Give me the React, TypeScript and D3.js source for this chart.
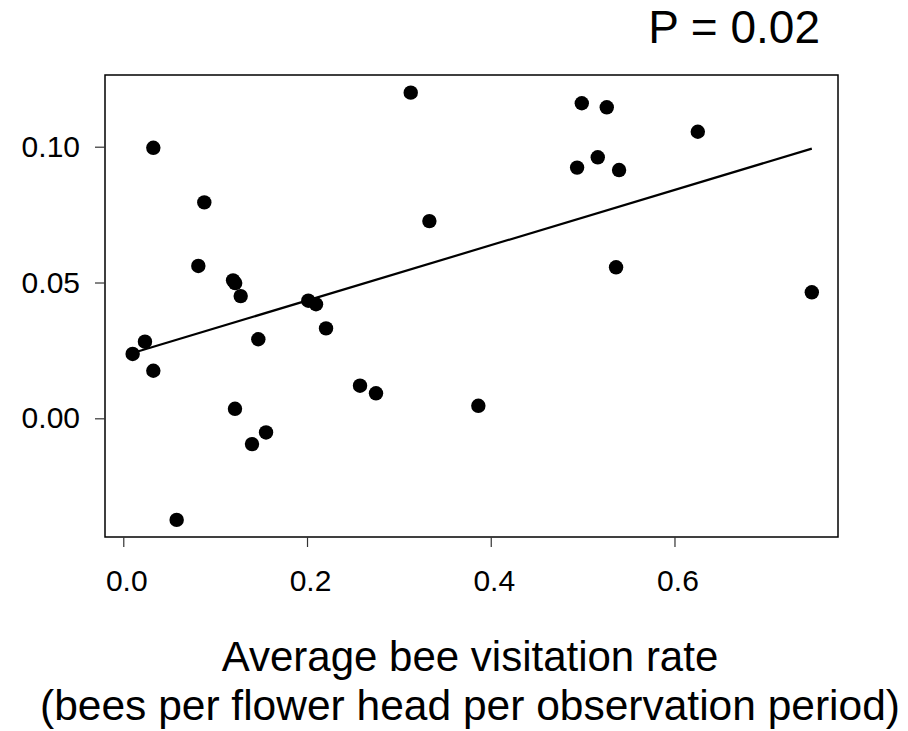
import React, { useEffect, useRef } from "react";
import * as d3 from "d3";

// visitation rate (x) vs. response (y)
const visitRate = [
  0.0327, 0.3129, 0.0882, 0.3332, 0.0817, 0.1195, 0.1218, 0.1278, 0.2014, 0.2098,
  0.2207, 0.147, 0.0236, 0.0102, 0.0327, 0.2577, 0.2751, 0.3865, 0.1216, 0.1554,
  0.1401, 0.0581, 0.4991, 0.5263, 0.6254, 0.5165, 0.494, 0.5397, 0.5364, 0.7495
];
const response = [
  0.0996, 0.1199, 0.0795, 0.0726, 0.0561, 0.0508, 0.0498, 0.045, 0.0433, 0.042,
  0.0331, 0.0291, 0.0282, 0.0237, 0.0175, 0.012, 0.0092, 0.0046, 0.0035, -0.0052,
  -0.0095, -0.0374, 0.116, 0.1145, 0.1055, 0.0961, 0.0923, 0.0914, 0.0556, 0.0464
];

// fitted line
const fitIntercept = 0.023;
const fitSlope = 0.1018;

const xTicks = [0.0, 0.2, 0.4, 0.6];
const yTicks = [0.0, 0.05, 0.1];

const xTitle = "Average bee visitation rate";
const xSubtitle = "(bees per flower head per observation period)";
const pLabel = "P = 0.02";

const FONT = "'Liberation Sans', Arial, Helvetica, sans-serif";

const App: React.FC = () => {
  const ref = useRef<SVGSVGElement | null>(null);

  useEffect(() => {
    document.body.style.margin = "0";
    if (!ref.current) return;
    const svg = d3.select(ref.current);
    svg.selectAll("*").remove();

    const box = { left: 105, right: 838, top: 75, bottom: 537 };

    const x = d3.scaleLinear().domain([-0.0199, 0.778]).range([box.left, box.right]);
    const y = d3.scaleLinear().domain([-0.0437, 0.1264]).range([box.bottom, box.top]);

    // frame
    svg.append("rect")
      .attr("x", box.left)
      .attr("y", box.top)
      .attr("width", box.right - box.left)
      .attr("height", box.bottom - box.top)
      .attr("fill", "none")
      .attr("stroke", "#000")
      .attr("stroke-width", 1.5);

    const xAxis = svg.append("g")
      .attr("transform", `translate(0,${box.bottom})`)
      .call(d3.axisBottom(x).tickValues(xTicks).tickSize(10).tickSizeOuter(0).tickPadding(23).tickFormat(d3.format(".1f")));
    xAxis.select(".domain").remove();

    const yAxis = svg.append("g")
      .attr("transform", `translate(${box.left},0)`)
      .call(d3.axisLeft(y).tickValues(yTicks).tickSize(10).tickSizeOuter(0).tickPadding(15).tickFormat(d3.format(".2f")));
    yAxis.select(".domain").remove();

    svg.selectAll(".tick line").attr("stroke", "#333").attr("stroke-width", 1.2);
    svg.selectAll(".tick text")
      .attr("font-family", FONT)
      .attr("font-size", 30)
      .attr("fill", "#000");
    xAxis.selectAll(".tick text").attr("dy", "0.71em").attr("dx", 3);

    // regression line
    const [xMin, xMax] = d3.extent(visitRate) as [number, number];
    svg.append("line")
      .attr("x1", x(xMin))
      .attr("y1", y(fitIntercept + fitSlope * xMin))
      .attr("x2", x(xMax))
      .attr("y2", y(fitIntercept + fitSlope * xMax))
      .attr("stroke", "#000")
      .attr("stroke-width", 2.2);

    // points
    svg.append("g")
      .selectAll("circle")
      .data(visitRate.map((v, i) => ({ v, r: response[i] })))
      .enter()
      .append("circle")
      .attr("cx", d => x(d.v))
      .attr("cy", d => y(d.r))
      .attr("r", 7.2)
      .attr("fill", "#000");

    svg.append("text")
      .attr("x", 470)
      .attr("y", 671)
      .attr("text-anchor", "middle")
      .attr("font-family", FONT)
      .attr("font-size", 42)
      .text(xTitle);

    svg.append("text")
      .attr("x", 470)
      .attr("y", 720)
      .attr("text-anchor", "middle")
      .attr("font-family", FONT)
      .attr("font-size", 42.5)
      .text(xSubtitle);

    svg.append("text")
      .attr("x", 820)
      .attr("y", 43)
      .attr("text-anchor", "end")
      .attr("font-family", FONT)
      .attr("font-size", 46)
      .text(pLabel);
  }, []);

  return <svg ref={ref} width={908} height={731} style={{ display: "block", background: "#fff" }} />;
};

export default App;
